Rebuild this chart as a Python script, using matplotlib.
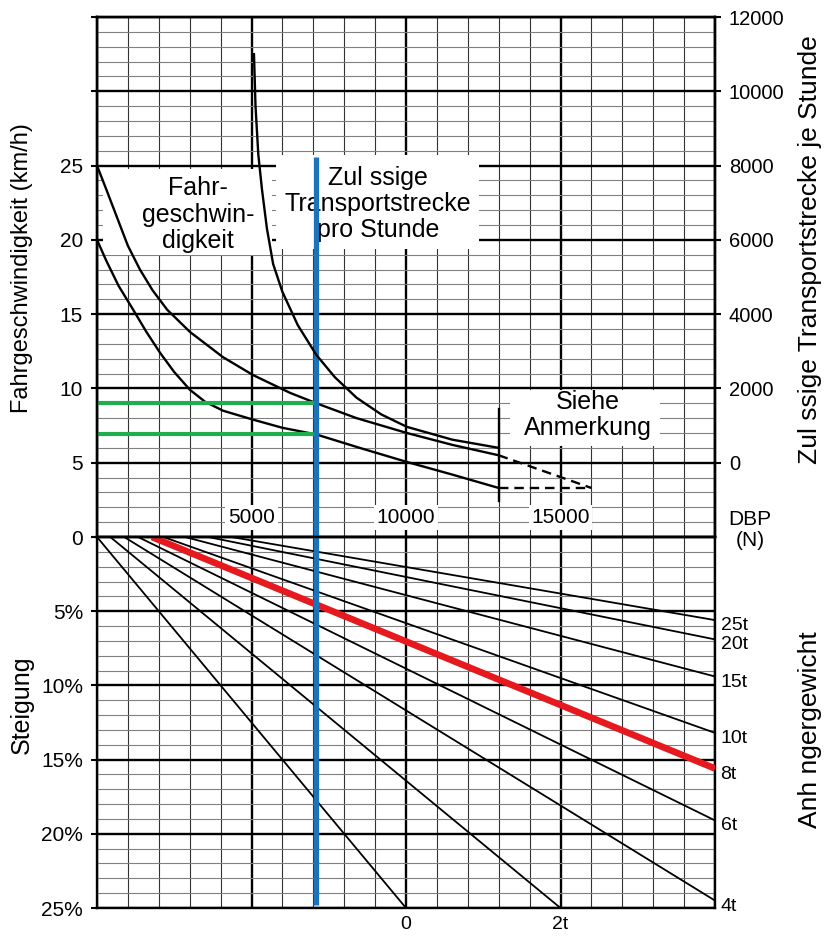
import matplotlib.pyplot as plt
from matplotlib.patches import Rectangle
from matplotlib.ticker import MultipleLocator

plt.rcParams['font.family'] = ['Liberation Sans', 'DejaVu Sans']
plt.rcParams['font.size'] = 15

# obere Grafik: Fahrgeschwindigkeit (km/h) ueber DBP (N)
v20_dbp = [0, 300, 700, 1170, 1600, 2040, 2500, 3010, 3500, 4080, 5050, 6000, 7100, 8500, 10030, 11500, 13000]
v20_kmh = [20, 18.6, 16.9, 15.3, 13.8, 12.4, 11.1, 9.9, 9.1, 8.5, 7.9, 7.35, 6.9, 6.0, 5.05, 4.2, 3.3]

v25_dbp = [0, 300, 650, 1000, 1390, 1800, 2270, 3010, 4080, 5050, 6250, 7100, 8400, 10030, 11500, 13000]
v25_kmh = [25, 23.4, 21.5, 19.6, 18.0, 16.6, 15.3, 13.8, 12.1, 10.9, 9.7, 9.0, 8.0, 7.0, 6.2, 5.5]

# zulaessige Transportstrecke je Stunde (rechte Achse)
tr_dbp = [5080, 5130, 5220, 5340, 5500, 5700, 6000, 6500, 7100, 7700, 8400, 9200, 10030, 11500, 13000]
tr_dist = [11000, 9600, 8300, 7350, 6300, 5350, 4600, 3700, 2900, 2300, 1750, 1300, 965, 620, 400]

# gestrichelte Fortsetzung ("Siehe Anmerkung")
dash_dbp = [13000, 16000]
dash_a = [5.5, 3.3]
dash_b = [3.3, 3.3]
limit_dbp = 13000
limit_kmh = [2.4, 8.6]

speed_ticks = [0, 5, 10, 15, 20, 25, 30, 35]
speed_labels = ['', '5', '10', '15', '20', '25', '', '']
dist_ticks = [0, 2000, 4000, 6000, 8000, 10000, 12000]
dbp_marks = [5000, 10000, 15000]

# untere Grafik: Steigung und Anhaengergewicht
grade_ticks = [0, 5, 10, 15, 20, 25]
grade_labels = ['0', '5%', '10%', '15%', '20%', '25%']
trailer = ['0', '2t', '4t', '6t', '8t', '10t', '15t', '20t', '25t']
start_dbp = [0, 430, 880, 1330, 1780, 2150, 2850, 3600, 4350]
end_dbp = [10000, 15000, 20000, 20000, 20000, 20000, 20000, 20000, 20000]
end_grade = [25, 25, 24.5, 19.1, 15.6, 13.2, 9.4, 6.9, 5.6]

# Ablesebeispiel
sel_dbp = 7100
sel_speeds = [9.0, 6.9]
blue_top = 25.6
blue_bottom = 24.8

blue = '#1b74bb'
red = '#e5191e'
green = '#1fae4b'

fig = plt.figure(figsize=(8.31, 9.38), dpi=100)
L, W = 97 / 831, 618 / 831
ax = fig.add_axes([L, 401 / 938, W, 520 / 938])
axb = fig.add_axes([L, 30 / 938, W, 371 / 938])


def paper_grid(a):
    a.set_xlim(0, 20000)
    a.xaxis.set_major_locator(MultipleLocator(5000))
    a.xaxis.set_minor_locator(MultipleLocator(1000))
    a.yaxis.set_minor_locator(MultipleLocator(1))
    a.xaxis.grid(True, which='major', color='k', lw=1.7)
    a.xaxis.grid(True, which='minor', color='0.2', lw=0.8)
    a.yaxis.grid(True, which='major', color='k', lw=1.7)
    a.yaxis.grid(True, which='minor', color='0.5', lw=0.8)
    a.set_axisbelow(True)
    a.tick_params(axis='x', which='both', length=0, labelbottom=False)
    a.tick_params(axis='y', which='minor', length=0)
    a.tick_params(axis='y', which='major', length=4, width=1.5, pad=6)
    for s in a.spines.values():
        s.set_linewidth(1.7)


# ---- oben ----
paper_grid(ax)
ax.set_ylim(0, 35)
ax.set_yticks(speed_ticks)
ax.set_yticklabels(speed_labels)

ax2 = ax.twinx()
ax2.set_ylim(-2000, 12000)
ax2.set_yticks(dist_ticks)
ax2.set_yticklabels([str(t) for t in dist_ticks])
ax2.tick_params(axis='y', length=4, width=1.5, pad=6, labelsize=14.5)
for s in ax2.spines.values():
    s.set_linewidth(1.7)

# weisse Textfelder
ax.add_patch(Rectangle((200, 19.0), 5450, 5.8, fc='white', ec='none', zorder=1))
ax.add_patch(Rectangle((5800, 19.4), 6550, 6.3, fc='white', ec='none', zorder=1))
ax.add_patch(Rectangle((13370, 6.1), 4850, 3.8, fc='white', ec='none', zorder=1))

ax.plot(v20_dbp, v20_kmh, color='k', lw=1.7, zorder=3)
ax.plot(v25_dbp, v25_kmh, color='k', lw=1.7, zorder=3)
ax2.plot(tr_dbp, tr_dist, color='k', lw=1.7, zorder=3)
ax.plot(dash_dbp, dash_a, color='k', lw=1.7, ls=(0, (4, 2.5)), zorder=3)
ax.plot(dash_dbp, dash_b, color='k', lw=1.7, ls=(0, (4, 2.5)), zorder=3)
ax.plot([limit_dbp, limit_dbp], limit_kmh, color='k', lw=1.7, zorder=3)

ax.text(3270, 21.7, 'Fahr-\ngeschwin-\ndigkeit', ha='center', va='center',
        fontsize=18, linespacing=1.15, zorder=4)
ax.text(9100, 22.4, 'Zul ssige\nTransportstrecke\npro Stunde', ha='center',
        va='center', fontsize=18, linespacing=1.1, zorder=4)
ax.text(15890, 8.2, 'Siehe\nAnmerkung', ha='center', va='center',
        fontsize=18, linespacing=1.1, zorder=4)
for d in dbp_marks:
    ax.text(d, 1.3, str(d), ha='center', va='center', zorder=4,
            bbox=dict(fc='white', ec='none', pad=2))

for s in sel_speeds:
    ax.plot([0, sel_dbp], [s, s], color=green, lw=3, solid_capstyle='butt', zorder=4)
ax.plot([sel_dbp, sel_dbp], [0, blue_top], color=blue, lw=3.8,
        solid_capstyle='butt', zorder=6)

# ---- unten ----
paper_grid(axb)
axb.set_ylim(25, 0)
axb.set_yticks(grade_ticks)
axb.set_yticklabels(grade_labels)

for i, t in enumerate(trailer):
    if t == '8t':
        axb.plot([start_dbp[i], end_dbp[i]], [0, end_grade[i]], color=red, lw=4.8,
                 solid_capstyle='butt', zorder=4)
    else:
        axb.plot([start_dbp[i], end_dbp[i]], [0, end_grade[i]], color='k', lw=1.3, zorder=3)
    if end_dbp[i] == 20000:
        axb.annotate(t, xy=(end_dbp[i], end_grade[i]), xytext=(4, -4),
                     textcoords='offset points', ha='left', va='center',
                     fontsize=14, annotation_clip=False)
    else:
        axb.annotate(t, xy=(end_dbp[i], end_grade[i]), xytext=(0, -6),
                     textcoords='offset points', ha='center', va='top',
                     fontsize=14, annotation_clip=False)

axb.plot([sel_dbp, sel_dbp], [0, blue_bottom], color=blue, lw=3.8,
         solid_capstyle='butt', zorder=6)

# Achsentitel
fig.text(22 / 831, 1 - 268 / 938, 'Fahrgeschwindigkeit (km/h)', rotation=90,
         ha='center', va='center', fontsize=17)
fig.text(22 / 831, 1 - 705 / 938, 'Steigung', rotation=90,
         ha='center', va='center', fontsize=18)
fig.text(810 / 831, 1 - 250 / 938, 'Zul ssige Transportstrecke je Stunde', rotation=90,
         ha='center', va='center', fontsize=19)
fig.text(810 / 831, 1 - 730 / 938, 'Anh ngergewicht', rotation=90,
         ha='center', va='center', fontsize=19)
fig.text(750 / 831, 1 - 530 / 938, 'DBP\n(N)', ha='center', va='center',
         linespacing=1.1)

fig.savefig('out.png', dpi=100)
